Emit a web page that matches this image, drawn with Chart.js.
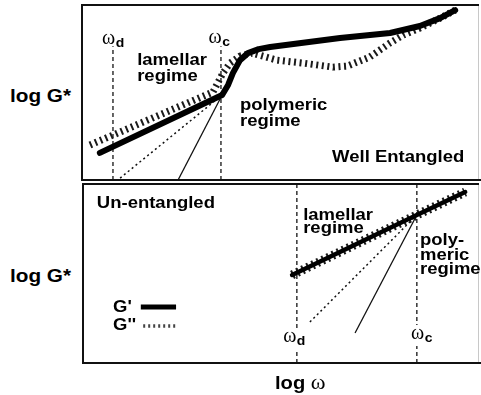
<!DOCTYPE html>
<html>
<head>
<meta charset="utf-8">
<script src="https://cdn.jsdelivr.net/npm/chart.js@4.4.1/dist/chart.umd.min.js"></script>
<style>
  html, body { margin: 0; padding: 0; background: #fff; }
  #wrap { position: relative; width: 481px; height: 395px; overflow: hidden; background: #fff; }
  #wrap canvas { position: absolute; }
  .lbl { position: absolute; font-family: "Liberation Sans", Arial, sans-serif; font-weight: bold;
         white-space: nowrap; color: #000; transform-origin: left center; transform: scaleX(1.12); line-height: 1; }
  .om { font-family: "Liberation Serif", "DejaVu Serif", serif; font-weight: normal; }
</style>
</head>
<body>
<div id="wrap">
  <canvas id="wellChart" width="401" height="180" style="left:80px;top:3px"></canvas>
  <canvas id="unentChart" width="401" height="184" style="left:80px;top:182px"></canvas>
  <div class="lbl" style="left:10px;top:87px;font-size:18.5px">log G*</div>
  <div class="lbl" style="left:10px;top:267px;font-size:18.5px">log G*</div>
  <div class="lbl" style="left:275px;top:372px;font-size:18px">log <span class="om" style="font-size:20px">ω</span></div>
</div>
<script>
// ---- Well entangled melt (upper panel); axes: log ω (0–100), log G* (0–100) ----
const wellGpLogW  = [4.5, 35.3, 36.8, 38.0, 39.8, 41.8, 44.5, 47.4, 65.0, 77.6, 85.1, 90.2, 94.0];
const wellGpLogG  = [15.5, 48.6, 54.3, 61.1, 68.5, 72.5, 74.8, 76.0, 81.1, 84.0, 88.0, 92.5, 97.1];
const wellGppLogW = [2.0, 33.0, 35.5, 37.3, 39.8, 42.8, 49.1, 55.7, 63.2, 66.8, 72.5, 77.6, 80.9, 85.1, 90.2, 94.0];
const wellGppLogG = [20.0, 50.3, 61.1, 66.8, 70.8, 72.5, 68.5, 66.8, 64.5, 65.1, 70.3, 78.3, 82.8, 86.8, 92.5, 97.1];
const wellDottedLogW = [9.6, 35.3];
const wellDottedLogG = [1.1, 48.6];
const wellSolidLogW  = [24.2, 35.3];
const wellSolidLogG  = [0, 48.6];
const wellOmegaD = 7.8;
const wellOmegaC = 35.0;
const wellGuideLogG = [0, 76.5];

// ---- Un-entangled melt (lower panel) ----
const unentGpLogW  = [52.8, 84.3, 96.5];
const unentGpLogG  = [49.2, 82.7, 95.5];
const unentGppLogW = [52.8, 84.3, 96.5];
const unentGppLogG = [49.2, 82.7, 95.5];
const unentDottedLogW = [57.3, 84.3];
const unentDottedLogG = [22.9, 82.7];
const unentSolidLogW  = [68.7, 84.3];
const unentSolidLogG  = [16.8, 82.7];
const unentOmegaD = 54.0;
const unentOmegaC = 84.3;
const unentGuideLogG = [0, 100];

const SANS = '"Liberation Sans", Arial, sans-serif';
const SERIF = '"Liberation Serif", "DejaVu Serif", serif';
const SX = 1.12;
const HATCH = [2, 3.6];

function pts(xs, ys) { return xs.map((x, i) => ({ x: x, y: ys[i] })); }

function gPrime(xs, ys, w) {
  return { data: pts(xs, ys), borderColor: '#000', borderWidth: w, borderCapStyle: 'round',
           borderJoinStyle: 'round', tension: 0, pointRadius: 0, order: 0 };
}
function gDoublePrime(xs, ys, w) {
  return { data: pts(xs, ys), borderColor: '#1a1a1a', borderWidth: w, borderDash: HATCH,
           borderCapStyle: 'butt', borderJoinStyle: 'round', tension: 0, pointRadius: 0, order: 1 };
}
function thin(xs, ys, dotted) {
  return { data: pts(xs, ys), borderColor: '#111', borderWidth: dotted ? 1.5 : 1.3, borderDash: dotted ? [2, 3] : [],
           pointRadius: 0, order: 2 };
}
function guide(x, ys) {
  return { data: pts([x, x], ys), borderColor: '#333', borderWidth: 1.5, borderDash: [4, 3],
           pointRadius: 0, order: 3 };
}

function sansText(ctx, s, x, y, size) {
  ctx.save();
  ctx.font = 'bold ' + size + 'px ' + SANS;
  ctx.fillStyle = '#000';
  ctx.textBaseline = 'middle';
  ctx.textAlign = 'left';
  ctx.translate(x, y);
  ctx.scale(SX, 1);
  ctx.fillText(s, 0, 0);
  ctx.restore();
}

function omegaText(ctx, sub, cx, baseline, backing) {
  ctx.save();
  ctx.font = '20px ' + SERIF;
  const wO = ctx.measureText('ω').width;
  ctx.font = 'bold 12.5px ' + SANS;
  const wS = ctx.measureText(sub).width * SX;
  const x0 = cx - (wO + wS) / 2;
  if (backing) {
    ctx.fillStyle = '#fff';
    ctx.fillRect(x0 - 2, baseline - 14, wO + wS + 4, 21);
  }
  ctx.fillStyle = '#000';
  ctx.textBaseline = 'alphabetic';
  ctx.font = '20px ' + SERIF;
  ctx.fillText('ω', x0, baseline);
  ctx.font = 'bold 12.5px ' + SANS;
  ctx.translate(x0 + wO + 0.5, baseline + 3);
  ctx.scale(SX, 1);
  ctx.fillText(sub, 0, 0);
  ctx.restore();
}

function frame(ctx, a) {
  ctx.save();
  ctx.strokeStyle = '#c8c8c8';
  ctx.lineWidth = 1;
  ctx.beginPath();
  ctx.moveTo(a.right - 0.5, a.top); ctx.lineTo(a.right - 0.5, a.bottom);
  ctx.stroke();
  ctx.strokeStyle = '#111';
  ctx.lineWidth = 2;
  ctx.beginPath();
  ctx.moveTo(a.right, a.top); ctx.lineTo(a.left, a.top); ctx.lineTo(a.left, a.bottom); ctx.lineTo(a.right + 2, a.bottom);
  ctx.stroke();
  ctx.restore();
}

// Free text placed in the panel's own log ω / log G* coordinates
function annotate(notes) {
  return {
    id: 'notes',
    afterDatasetsDraw(chart) {
      const ctx = chart.ctx, xs = chart.scales.x, ys = chart.scales.y;
      frame(ctx, chart.chartArea);
      notes.forEach(n => {
        const px = xs.getPixelForValue(n.x), py = ys.getPixelForValue(n.y);
        if (n.omega) omegaText(ctx, n.omega, px, py, n.backing);
        else if (n.key) {
          sansText(ctx, n.key, px, py, 16.5);
          const x1 = xs.getPixelForValue(n.x1), x2 = xs.getPixelForValue(n.x2);
          ctx.save();
          ctx.strokeStyle = n.hatched ? '#444' : '#000';
          ctx.lineWidth = n.hatched ? 3.5 : 5;
          ctx.setLineDash(n.hatched ? [2, 3] : []);
          ctx.beginPath(); ctx.moveTo(x1, py); ctx.lineTo(x2, py); ctx.stroke();
          ctx.restore();
        } else sansText(ctx, n.text, px, py, 16.5);
      });
    }
  };
}

function panel(id, datasets, pad, notes) {
  return new Chart(document.getElementById(id), {
    type: 'line',
    data: { datasets: datasets },
    options: {
      responsive: false, animation: false, events: [],
      layout: { padding: pad },
      scales: {
        x: { type: 'linear', min: 0, max: 100, display: false },
        y: { type: 'linear', min: 0, max: 100, display: false }
      },
      plugins: { legend: { display: false }, tooltip: { enabled: false } }
    },
    plugins: [annotate(notes)]
  });
}

panel('wellChart', [
  gPrime(wellGpLogW, wellGpLogG, 6),
  gDoublePrime(wellGppLogW, wellGppLogG, 7),
  thin(wellDottedLogW, wellDottedLogG, true),
  thin(wellSolidLogW, wellSolidLogG, false),
  guide(wellOmegaD, wellGuideLogG),
  guide(wellOmegaC, wellGuideLogG)
], { left: 2, top: 2, right: 2, bottom: 3 }, [
  { omega: 'd', x: 7.8, y: 77.7 },
  { omega: 'c', x: 34.5, y: 78.3 },
  { text: 'lamellar', x: 13.9, y: 68.5 },
  { text: 'regime', x: 13.9, y: 59.4 },
  { text: 'polymeric', x: 39.8, y: 42.8 },
  { text: 'regime', x: 39.8, y: 33.7 },
  { text: 'Well Entangled', x: 63.0, y: 13.1 }
]);

panel('unentChart', [
  gPrime(unentGpLogW, unentGpLogG, 4.5),
  gDoublePrime(unentGppLogW, unentGppLogG, 9),
  thin(unentDottedLogW, unentDottedLogG, true),
  thin(unentSolidLogW, unentSolidLogG, false),
  guide(unentOmegaD, unentGuideLogG),
  guide(unentOmegaC, unentGuideLogG)
], { left: 3, top: 2, right: 2, bottom: 3 }, [
  { text: 'Un-entangled', x: 3.5, y: 89.4 },
  { text: 'lamellar', x: 55.6, y: 82.7 },
  { text: 'regime', x: 55.6, y: 74.9 },
  { text: 'poly-', x: 85.1, y: 68.2 },
  { text: 'meric', x: 85.1, y: 60.3 },
  { text: 'regime', x: 85.1, y: 52.0 },
  { key: "G'", x: 7.6, y: 31.3, x1: 14.6, x2: 23.5 },
  { key: "G''", x: 7.6, y: 20.7, x1: 15.2, x2: 23.5, hatched: true },
  { omega: 'd', x: 53.3, y: 11.7, backing: true },
  { omega: 'c', x: 85.5, y: 13.4, backing: true }
]);
</script>
</body>
</html>
